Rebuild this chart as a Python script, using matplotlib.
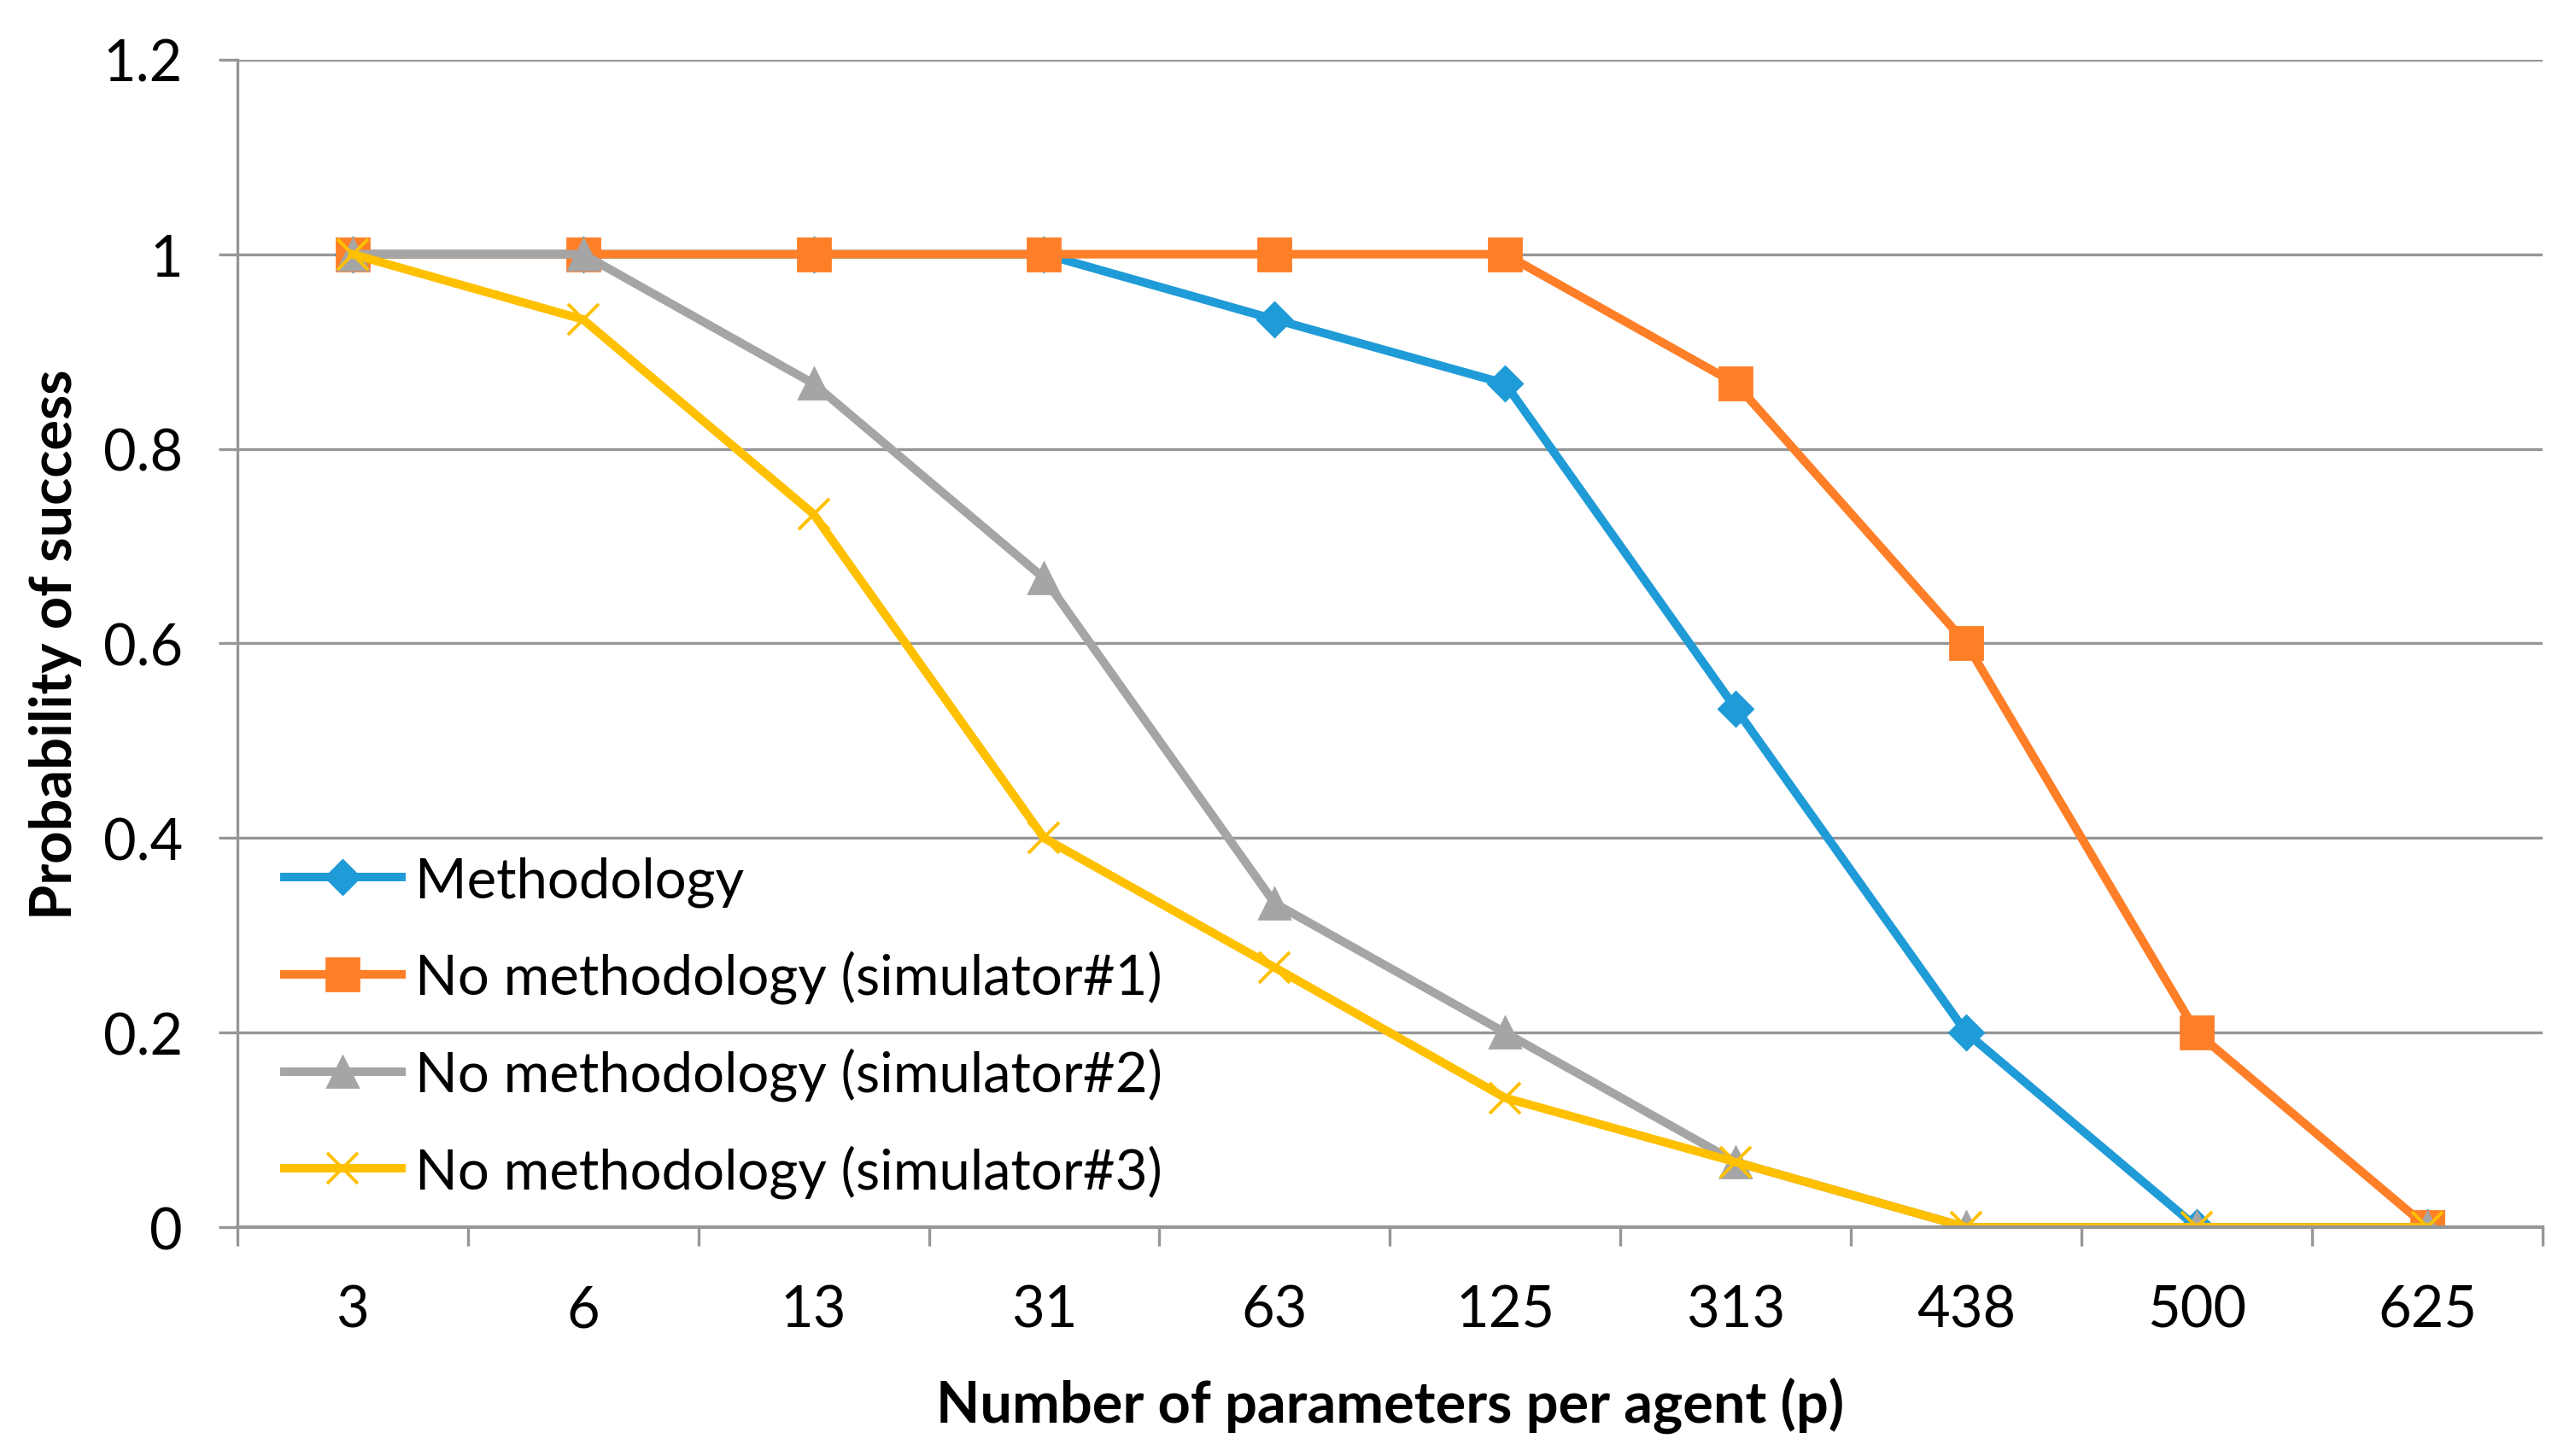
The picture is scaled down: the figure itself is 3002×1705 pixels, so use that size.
import numpy as np
import matplotlib.pyplot as plt

plt.rcParams['font.family'] = ['Lato', 'DejaVu Sans']

params = ['3', '6', '13', '31', '63', '125', '313', '438', '500', '625']
methodology = [1, 1, 1, 1, 0.933, 0.867, 0.533, 0.2, 0, 0]
sim1 = [1, 1, 1, 1, 1, 1, 0.867, 0.6, 0.2, 0]
sim2 = [1, 1, 0.867, 0.667, 0.333, 0.2, 0.067, 0, 0, 0]
sim3 = [1, 0.933, 0.733, 0.4, 0.267, 0.133, 0.067, 0, 0, 0]

x = np.arange(len(params))

fig = plt.figure(figsize=(15.01, 8.53), dpi=200)
ax = fig.add_axes([0.0925, 0.157, 0.8992, 0.8015])

ax.plot(x, methodology, color='#1F9BD7', lw=3.6, marker='D', ms=10, label='Methodology')
ax.plot(x, sim1, color='#FE7F27', lw=3.6, marker='s', ms=14, label='No methodology (simulator#1)')
ax.plot(x, sim2, color='#A5A5A5', lw=3.6, marker='^', ms=13, label='No methodology (simulator#2)')
ax.plot(x, sim3, color='#FFC000', lw=3.6, marker='x', ms=13, mew=1.4, label='No methodology (simulator#3)')

ax.set_xlim(-0.5, len(params) - 0.5)
ax.set_ylim(0, 1.2)
ax.set_yticks(np.arange(0, 1.21, 0.2))
ax.set_yticklabels(['0', '0.2', '0.4', '0.6', '0.8', '1', '1.2'])
ax.set_xticks(x)
ax.set_xticklabels(params)
ax.set_xticks(np.arange(-0.5, len(params), 1), minor=True)

ax.grid(axis='y', color='#969696', lw=1.2)
ax.set_axisbelow(True)
for s in ['top', 'right']:
    ax.spines[s].set_visible(False)
ax.spines['left'].set_color('#969696')
ax.spines['bottom'].set_color('#969696')
ax.spines['left'].set_linewidth(1.2)
ax.spines['bottom'].set_linewidth(1.5)

ax.tick_params(axis='y', length=8, width=1.2, color='#969696', labelsize=24, pad=15)
ax.tick_params(axis='x', which='major', length=0, labelsize=24, pad=24)
ax.tick_params(axis='x', which='minor', length=8, width=1.2, color='#969696')

ax.set_xlabel('Number of parameters per agent (p)', fontsize=24, fontweight='bold', labelpad=17)
ax.set_ylabel('Probability of success', fontsize=24, fontweight='bold', labelpad=9)

ax.legend(loc='lower left', bbox_to_anchor=(0.001, -0.013), frameon=False, fontsize=23.5,
          handlelength=2.1, handletextpad=0.25, labelspacing=0.78, borderpad=0.3)

fig.savefig('out.png', dpi=200)
